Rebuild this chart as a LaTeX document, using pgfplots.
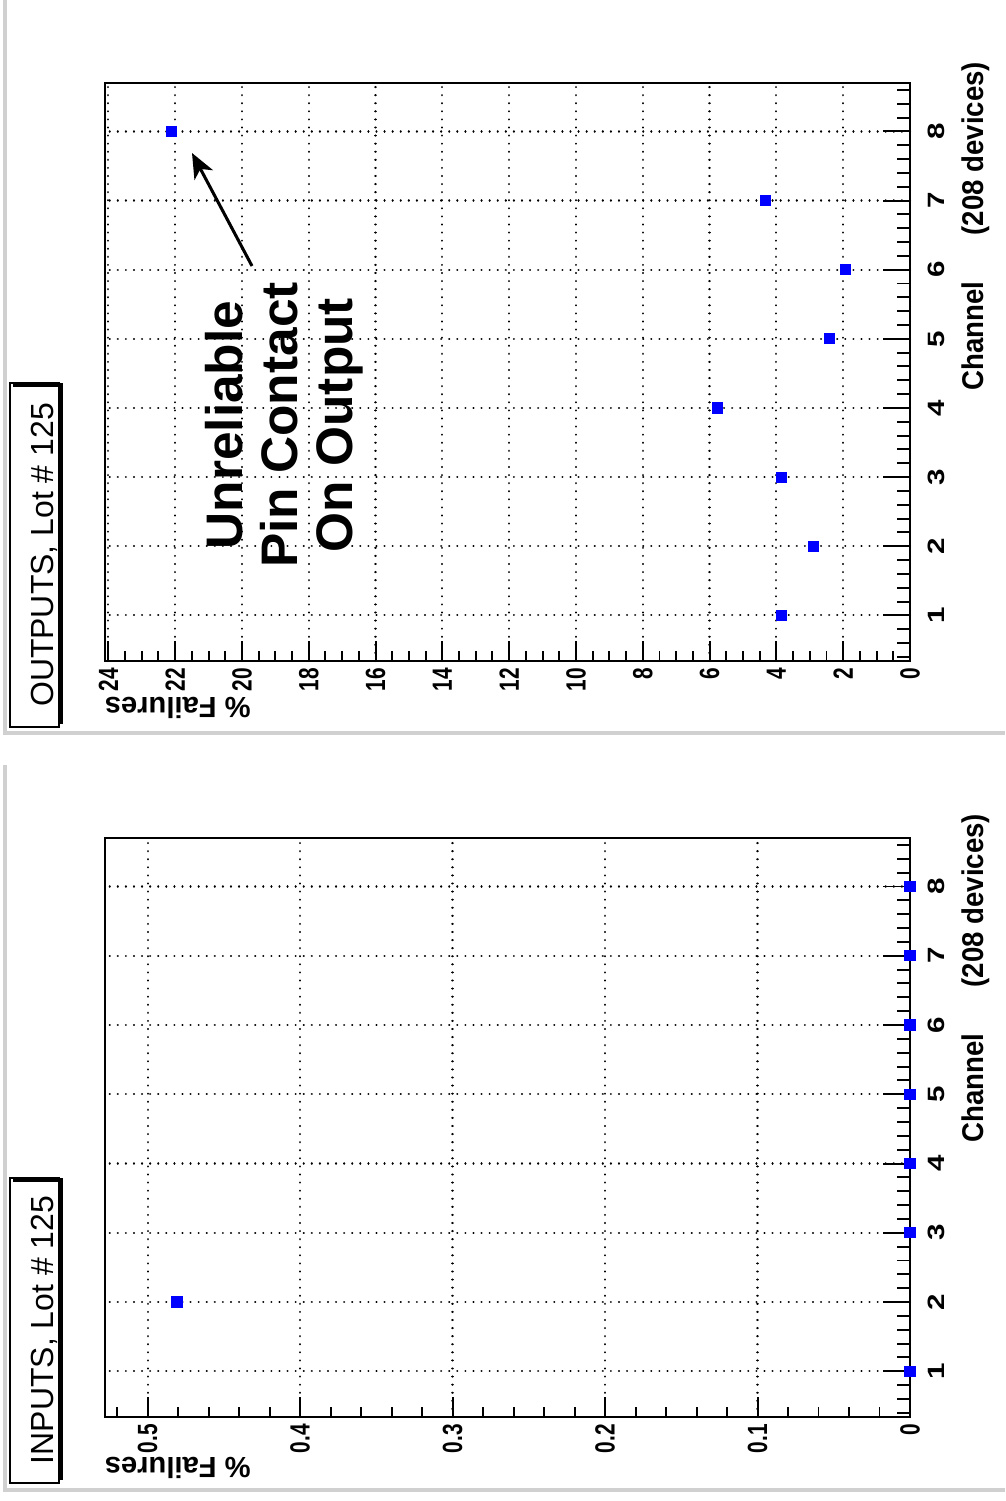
\documentclass[border=0pt]{standalone}
\usepackage{pgfplots}
\pgfplotsset{compat=1.18}
\usepackage{pgfplotstable}
\usepackage{fontspec}
\setmainfont{Liberation Sans}
\usetikzlibrary{arrows.meta}

\definecolor{rootblue}{RGB}{0,0,255}
\definecolor{padgray}{RGB}{208,208,208}

\pgfplotstableread{
ch fail
1 0
2 0.4808
3 0
4 0
5 0
6 0
7 0
8 0
}\inputsdata

\pgfplotstableread{
ch fail
1 3.846
2 2.885
3 3.846
4 5.769
5 2.404
6 1.923
7 4.327
8 22.115
}\outputsdata

\pgfplotsset{
  rootaxis/.style={
    scale only axis,
    width=289.8pt,
    x dir=reverse,
    xmin=0, ymin=0.34, ymax=8.7,
    clip=false,
    axis line style={line width=0.75pt},
    ytick={1,...,8},
    minor ytick={0.4,0.6,...,8.6},
    xtick pos=left, ytick pos=right,
    xticklabel pos=left, yticklabel pos=right,
    tick align=inside,
    /pgf/number format/assume math mode=true,
    every tick/.style={black, line width=0.7pt},
    xtick style={/pgfplots/major tick length=7.2pt, /pgfplots/minor tick length=3.6pt},
    ytick style={/pgfplots/major tick length=9.7pt, /pgfplots/minor tick length=4.7pt},
    grid=major,
    major grid style={black, line width=0.8pt, line cap=round, dash pattern=on 0.01pt off 2.9pt},
    xticklabel style={rotate=90, xscale=0.75, anchor=east, font=\bfseries\fontsize{10}{10}\selectfont},
    yticklabel style={xshift=3pt, rotate=90, xscale=1.25, anchor=north, font=\bfseries\fontsize{8.5}{8.5}\selectfont},
  },
  rootmarks/.style={only marks, mark=square*, mark size=1.8pt, color=rootblue, mark options={draw=rootblue, fill=rootblue}},
}

\begin{document}
\begin{tikzpicture}[x=0.36pt,y=-0.36pt]
\path[use as bounding box] (0,0) rectangle (1005,1501);
% pad borders
\draw[padgray, line width=1.1pt] (5,0) -- (5,733) -- (1005,733);
\draw[padgray, line width=1.1pt] (5,765) -- (5,1490) -- (1005,1490);

% OUTPUTS panel
\begin{axis}[rootaxis, at={(37.8pt,-237.96pt)}, anchor=south west, height=208.08pt,
  xmax=24.1, xtick={0,2,...,24}, minor xtick={0,0.5,...,24}]
\addplot[rootmarks] table[x=fail, y=ch] {\outputsdata};
\end{axis}

% INPUTS panel
\begin{axis}[rootaxis, at={(37.8pt,-510.12pt)}, anchor=south west, height=208.44pt,
  xmax=0.528, xtick={0,0.1,0.2,0.3,0.4,0.5},
  minor xtick={0.02,0.04,0.06,0.08,0.12,0.14,0.16,0.18,0.22,0.24,0.26,0.28,0.32,0.34,0.36,0.38,0.42,0.44,0.46,0.48,0.52}]
\addplot[rootmarks] table[x=fail, y=ch] {\inputsdata};
\end{axis}

% title boxes
\draw[line width=0.75pt] (10,383) rectangle (59,727);
\draw[line width=1.3pt] (13,385) -- (61,385) -- (61,724);
\node[rotate=90, anchor=base, font=\fontsize{11.5}{12}\selectfont] at (53,555) {OUTPUTS, Lot \# 125};

\draw[line width=0.75pt] (10,1178) rectangle (59,1483);
\draw[line width=1.3pt] (13,1180) -- (61,1180) -- (61,1480);
\node[rotate=90, anchor=base, font=\fontsize{11.5}{12}\selectfont] at (53,1330) {INPUTS, Lot \# 125};

% axis titles
\node[rotate=180, anchor=base east, font=\bfseries\fontsize{10.5}{11}\selectfont] at (95,697) {\% Failures};
\node[rotate=180, anchor=base east, font=\bfseries\fontsize{10.5}{11}\selectfont] at (95,1457) {\% Failures};
\node[rotate=90, xscale=0.92, anchor=base east, font=\bfseries\fontsize{10.8}{11}\selectfont] at (983,53) {Channel\hspace{18pt}(208 devices)};
\node[rotate=90, xscale=0.92, anchor=base east, font=\bfseries\fontsize{10.8}{11}\selectfont] at (983,805) {Channel\hspace{18pt}(208 devices)};

% annotation
\node[rotate=90, align=center, font=\bfseries\fontsize{18.5}{19.8}\selectfont] at (284,425) {Unreliable\\Pin Contact\\On Output};
\draw[line width=1.1pt, -{Stealth[length=9pt, width=7.5pt, inset=2.5pt]}] (252,266) -- (192,153);
\end{tikzpicture}
\end{document}
